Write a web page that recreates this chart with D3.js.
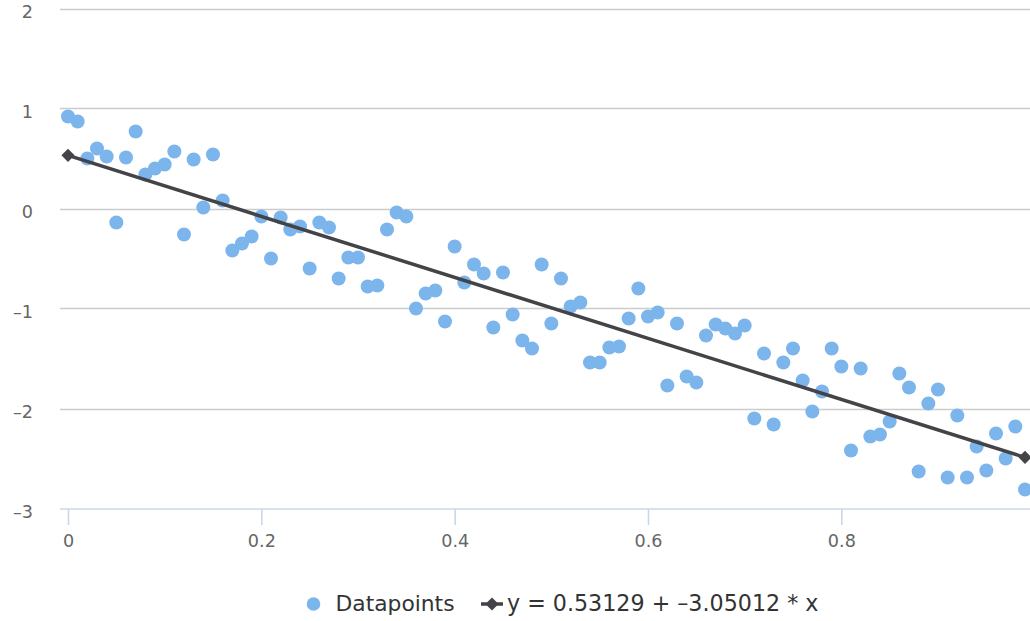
<!DOCTYPE html>
<html>
<head>
<meta charset="utf-8">
<script src="https://cdn.jsdelivr.net/npm/d3@7"></script>
<style>
  html, body { margin: 0; padding: 0; background: #fff; }
  svg { display: block; font-family: "DejaVu Sans", Verdana, sans-serif; }
</style>
</head>
<body>
<svg id="chart" width="1030" height="621"></svg>
<script>
// ---- data ----
const xValues = [0.00,0.01,0.02,0.03,0.04,0.05,0.06,0.07,0.08,0.09,
  0.10,0.11,0.12,0.13,0.14,0.15,0.16,0.17,0.18,0.19,
  0.20,0.21,0.22,0.23,0.24,0.25,0.26,0.27,0.28,0.29,
  0.30,0.31,0.32,0.33,0.34,0.35,0.36,0.37,0.38,0.39,
  0.40,0.41,0.42,0.43,0.44,0.45,0.46,0.47,0.48,0.49,
  0.50,0.51,0.52,0.53,0.54,0.55,0.56,0.57,0.58,0.59,
  0.60,0.61,0.62,0.63,0.64,0.65,0.66,0.67,0.68,0.69,
  0.70,0.71,0.72,0.73,0.74,0.75,0.76,0.77,0.78,0.79,
  0.80,0.81,0.82,0.83,0.84,0.85,0.86,0.87,0.88,0.89,
  0.90,0.91,0.92,0.93,0.94,0.95,0.96,0.97,0.98,0.99];
const yValues = [0.92,0.87,0.50,0.60,0.52,-0.14,0.51,0.77,0.34,0.40,
  0.44,0.57,-0.26,0.49,0.01,0.54,0.08,-0.42,-0.35,-0.28,
  -0.08,-0.50,-0.09,-0.21,-0.18,-0.60,-0.14,-0.19,-0.70,-0.49,
  -0.49,-0.78,-0.77,-0.21,-0.04,-0.08,-1.00,-0.85,-0.82,-1.13,
  -0.38,-0.74,-0.56,-0.65,-1.19,-0.64,-1.06,-1.32,-1.40,-0.56,
  -1.15,-0.70,-0.98,-0.94,-1.54,-1.54,-1.39,-1.38,-1.10,-0.80,
  -1.08,-1.04,-1.77,-1.15,-1.68,-1.74,-1.27,-1.16,-1.20,-1.25,
  -1.17,-2.10,-1.45,-2.16,-1.54,-1.40,-1.72,-2.03,-1.83,-1.40,
  -1.58,-2.42,-1.60,-2.28,-2.26,-2.13,-1.65,-1.79,-2.63,-1.95,
  -1.81,-2.69,-2.07,-2.69,-2.38,-2.62,-2.25,-2.50,-2.18,-2.81];
const intercept = 0.53129;
const slope = -3.05012;
const lineX = [0, 0.99];
const xTicks = [0, 0.2, 0.4, 0.6, 0.8];
const yTicks = [-3, -2, -1, 0, 1, 2];
const seriesNames = ["Datapoints", "y = 0.53129 + \u20133.05012 * x"];

// ---- chart ----
const svg = d3.select("#chart");
const plotLeft = 60, plotRight = 1030;
const x = d3.scaleLinear().domain([0, 0.99]).range([68, 1025]);
const y = d3.scaleLinear().domain([-3, 2]).range([508.5, 8.5]);
const fmt = v => (v < 0 ? "\u2013" + Math.abs(v) : String(v));

// gridlines
svg.append("g").selectAll("line").data(yTicks.filter(d => d !== -3)).join("line")
  .attr("x1", plotLeft).attr("x2", plotRight)
  .attr("y1", d => Math.round(y(d)) + 0.5).attr("y2", d => Math.round(y(d)) + 0.5)
  .attr("stroke", "#cccccc").attr("stroke-width", 1.6);

// y labels
svg.append("g").selectAll("text").data(yTicks).join("text")
  .attr("x", 33).attr("y", d => y(d) + 9)
  .attr("text-anchor", "end")
  .attr("font-size", "17.6px").attr("fill", "#666666")
  .text(fmt);

// x axis
const xAxis = d3.axisBottom(x).tickValues(xTicks).tickSize(16).tickPadding(5)
  .tickFormat(d => String(d));
const gx = svg.append("g").attr("transform", "translate(0,509)").call(xAxis);
gx.select(".domain").remove();
gx.selectAll(".tick line").attr("stroke", "#ccd6eb").attr("stroke-width", 1.6);
gx.selectAll(".tick text").attr("font-size", "17.6px").attr("fill", "#666666")
  .attr("font-family", "DejaVu Sans, Verdana, sans-serif").attr("dy", "0.95em");
svg.append("line").attr("x1", plotLeft).attr("x2", plotRight)
  .attr("y1", 509).attr("y2", 509).attr("stroke", "#ccd6eb").attr("stroke-width", 1.6);

// points
svg.append("g").selectAll("circle").data(xValues.map((xv, i) => [xv, yValues[i]])).join("circle")
  .attr("cx", d => x(d[0])).attr("cy", d => y(d[1])).attr("r", 7)
  .attr("fill", "#7cb5ec");

// regression line
const lineData = lineX.map(xv => [xv, intercept + slope * xv]);
svg.append("path").datum(lineData)
  .attr("d", d3.line().x(d => x(d[0])).y(d => y(d[1])))
  .attr("fill", "none").attr("stroke", "#434348").attr("stroke-width", 3.5);
const diamond = d3.symbol().type(d3.symbolDiamond2).size(110);
svg.append("g").selectAll("path").data(lineData).join("path")
  .attr("transform", d => `translate(${x(d[0])},${y(d[1])})`)
  .attr("d", diamond).attr("fill", "#434348");

// legend
const lg = svg.append("g");
const legendY = 611;
lg.append("circle").attr("cx", 313.5).attr("cy", 604).attr("r", 6.8).attr("fill", "#7cb5ec");
const t1 = lg.append("text").attr("x", 335.5).attr("y", legendY)
  .attr("font-size", "21.8px").attr("fill", "#333333").text(seriesNames[0]);
const w1 = t1.node().getComputedTextLength();
const sx = 481;
lg.append("line").attr("x1", sx).attr("x2", sx + 22).attr("y1", 604).attr("y2", 604)
  .attr("stroke", "#434348").attr("stroke-width", 3.5);
lg.append("path").attr("transform", `translate(${sx + 11},604)`)
  .attr("d", diamond).attr("fill", "#434348");
lg.append("text").attr("x", sx + 26).attr("y", legendY)
  .attr("font-size", "22.2px").attr("fill", "#333333").text(seriesNames[1]);
</script>
</body>
</html>
